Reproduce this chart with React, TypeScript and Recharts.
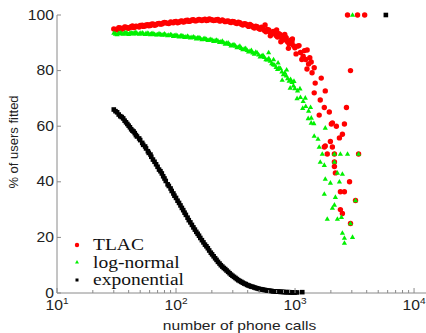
import { ScatterChart, Scatter, XAxis, YAxis, Legend } from 'recharts';

// tick values
const majorCalls = [10, 100, 1000, 10000];
const minorCalls = [20, 30, 40, 50, 60, 70, 80, 90, 200, 300, 400, 500, 600, 700, 800, 900, 2000, 3000, 4000, 5000, 6000, 7000, 8000, 9000];
const fitTicks = [0, 20, 40, 60, 80, 100];

// call counts shared by the dense part of the curves
const gridCalls = [30, 32, 34, 36, 38, 40, 42, 44, 46, 49, 52, 55, 58, 61, 64, 68, 72, 76, 80, 85, 90, 95, 100, 106, 112, 118, 125, 132, 140, 148, 156, 165, 175, 185, 196, 207, 219, 232, 245, 259, 274, 290, 307, 325, 344, 364, 385, 407, 430, 455, 481, 509, 538, 569, 602, 637, 674, 713, 754, 797, 843, 892, 943, 997];
const midCalls = [31, 33, 35, 37, 39, 41, 43, 45, 47, 50, 53, 56, 59, 62, 66, 70, 74, 78, 82, 87, 92, 97, 103, 109, 115, 121, 128, 136, 144, 152, 160, 170, 180, 190, 201, 213, 225, 238, 252, 266, 282, 298, 316, 334, 354, 374, 396, 418, 442, 468, 495, 523, 553, 585, 619, 655, 693, 733, 775, 820, 867, 917, 970];

// TLAC (red dots)
const tlacFit = [95.0, 94.6, 95.3, 95.1, 95.6, 95.2, 95.8, 95.5, 96.0, 95.7, 96.3, 96.0, 96.5, 96.2, 96.8, 96.5, 97.0, 96.8, 97.3, 97.0, 97.5, 97.2, 97.7, 97.4, 97.9, 97.6, 98.1, 97.8, 98.3, 97.9, 98.4, 98.0, 98.5, 98.1, 98.4, 98.0, 98.3, 97.8, 98.2, 97.6, 97.9, 97.3, 97.6, 96.9, 97.2, 96.4, 96.8, 95.9, 96.2, 95.3, 95.8, 94.9, 95.2, 94.0, 94.6, 93.2, 93.8, 92.1, 92.9, 91.0, 91.8, 89.6, 90.3, 88.2];
const tlacMidFit = [94.8, 95.4, 94.9, 95.7, 95.3, 95.5, 96.1, 95.6, 95.9, 96.2, 95.9, 96.4, 96.1, 96.7, 96.3, 96.9, 96.7, 97.1, 97.2, 96.9, 97.3, 97.6, 97.2, 97.8, 97.5, 98.0, 97.7, 98.2, 97.9, 98.2, 98.2, 98.3, 98.0, 98.6, 98.2, 98.1, 98.4, 97.9, 97.9, 97.8, 97.5, 97.7, 97.1, 97.4, 96.7, 96.9, 96.3, 96.6, 95.7, 96.0, 95.1, 95.6, 94.4, 94.8, 93.7, 94.1, 92.6, 93.3, 91.6, 92.4, 90.3, 90.9, 89.0];
const tlacSpreadCalls = [1050, 1110, 1170, 1230, 1300, 560, 620, 700, 760, 820, 880, 950, 1020, 1080, 1140, 1200, 1260, 1330, 1390, 1264, 1367, 1449, 1660, 1477, 1449, 1795, 1629, 1762, 1941, 1596, 2924, 2704, 2060, 2600, 2018, 2225, 2500, 2360, 1982, 1795, 1762, 2060, 1866, 2142, 3420, 2142, 2142, 2183, 2871, 2405, 2600, 3223, 2405, 2500, 2924, 2761, 3351, 3846];
const tlacSpreadFit = [88.8, 86.5, 85.2, 84.0, 82.4, 96.4, 92.5, 94.6, 90.4, 93.0, 88.0, 91.4, 86.0, 89.0, 84.0, 87.2, 80.6, 84.6, 79.2, 87.4, 83.1, 81.0, 77.3, 75.5, 72.0, 72.7, 69.4, 66.7, 65.1, 64.0, 80.0, 66.7, 61.2, 60.8, 60.8, 60.0, 57.1, 55.8, 54.5, 52.9, 52.5, 52.5, 50.0, 50.0, 50.0, 47.1, 45.5, 43.2, 40.0, 36.4, 36.4, 33.3, 30.0, 28.6, 25.0, 100, 100, 100];

// log-normal (green triangles)
const lognFit = [93.5, 93.0, 93.6, 93.2, 93.7, 93.1, 93.6, 93.3, 93.8, 93.2, 93.6, 93.1, 93.5, 93.0, 93.4, 92.9, 93.3, 92.8, 93.2, 92.6, 93.0, 92.4, 92.8, 92.2, 92.6, 92.0, 92.4, 91.8, 92.2, 91.5, 91.9, 91.2, 91.6, 90.9, 91.3, 90.6, 91.0, 90.2, 90.6, 89.6, 90.0, 89.0, 89.4, 88.3, 88.8, 87.6, 88.0, 86.8, 87.3, 86.0, 86.4, 85.0, 85.5, 84.0, 84.4, 82.6, 82.0, 80.5, 80.8, 78.6, 78.2, 76.3, 75.8, 73.6];
const lognMidFit = [93.2, 93.4, 93.4, 93.5, 93.3, 93.5, 93.4, 93.6, 93.4, 93.5, 93.3, 93.4, 93.2, 93.3, 93.1, 93.0, 93.1, 93.0, 92.9, 92.8, 92.8, 92.6, 92.5, 92.5, 92.3, 92.2, 92.1, 92.0, 91.9, 91.8, 91.6, 91.4, 91.3, 91.1, 91.0, 90.8, 90.7, 90.4, 90.1, 89.9, 89.5, 89.2, 88.9, 88.5, 88.1, 87.8, 87.3, 87.0, 86.4, 86.7, 85.7, 85.2, 84.8, 83.9, 83.5, 82.2, 81.2, 81.0, 79.6, 79.2, 77.2, 76.9, 74.6];
const lognSpreadCalls = [1050, 1110, 1170, 1230, 1300, 1370, 1440, 600, 660, 720, 780, 850, 910, 980, 1040, 1100, 1160, 1220, 1290, 1350, 1367, 1795, 1449, 1560, 1596, 1694, 2142, 2405, 2761, 3420, 1629, 1762, 2142, 2270, 2500, 1795, 1982, 2360, 1762, 2183, 3223, 2142, 2060, 1866, 2270, 2454, 2500, 3041, 2600, 2600, 2924, 3041];
const lognSpreadFit = [72.8, 70.4, 69.0, 67.2, 65.5, 63.0, 61.0, 86.5, 84.0, 82.8, 76.6, 80.3, 73.8, 76.2, 70.0, 73.5, 66.5, 70.2, 62.8, 66.8, 61.2, 59.4, 56.5, 55.4, 52.5, 50, 50, 50, 50, 50, 47.1, 46.0, 47.1, 43.2, 42.8, 41.0, 39.6, 40.0, 35.6, 34.5, 33.3, 31.7, 30.6, 26.6, 26.6, 27.3, 21.6, 20.1, 19.8, 18.0, 25.0, 100];

// exponential (black squares)
const expoFit = [66.0, 65.0, 63.6, 62.8, 61.4, 60.2, 58.9, 58.1, 56.8, 55.6, 54.0, 52.7, 51.0, 49.8, 48.0, 46.3, 44.4, 43.0, 41.2, 39.1, 37.6, 35.8, 34.2, 32.4, 30.6, 28.9, 27.1, 25.4, 23.6, 22.0, 20.6, 19.0, 17.4, 16.1, 14.5, 13.2, 11.9, 10.6, 9.5, 8.6, 7.6, 6.6, 5.8, 5.0, 4.3, 3.7, 3.2, 2.7, 2.3, 2.0, 1.7, 1.4, 1.2, 1.0, 0.8, 0.7, 0.6, 0.5, 0.4, 0.4, 0.3, 0.3, 0.2, 0.2];
const expoMidFit = [65.4, 64.2, 63.3, 62.0, 60.8, 59.6, 58.4, 57.5, 56.3, 55.0, 53.3, 52.0, 50.4, 49.0, 47.2, 45.4, 43.8, 42.0, 40.3, 38.5, 36.7, 35.0, 33.2, 31.5, 29.8, 28.1, 26.2, 24.5, 22.8, 21.3, 19.8, 18.2, 16.8, 15.3, 13.9, 12.5, 11.2, 10.0, 9.0, 8.1, 7.1, 6.2, 5.4, 4.6, 4.0, 3.4, 2.9, 2.5, 2.2, 1.8, 1.5, 1.3, 1.1, 0.9, 0.8, 0.6, 0.5, 0.5, 0.4, 0.3, 0.3, 0.2, 0.2];
const expoExtraCalls = [1040, 1150, 5795];
const expoExtraFit = [0.2, 0.3, 100];

const seriesNames = ['TLAC', 'log-normal', 'exponential'];

const RED = '#ff0000';
const GREEN = '#00f000';
const BLACK = '#000000';
const AXIS = '#8a8a8a';
const SANS = '"Liberation Sans", Arial, sans-serif';
const SERIF = '"Liberation Serif", "Times New Roman", serif';

const zip = (calls: number[], fit: number[]) => calls.map((c, i) => ({ calls: c, fit: fit[i] }));

const tlacData = [...zip(gridCalls, tlacFit), ...zip(midCalls, tlacMidFit), ...zip(tlacSpreadCalls, tlacSpreadFit)];
const lognData = [...zip(gridCalls, lognFit), ...zip(midCalls, lognMidFit), ...zip(lognSpreadCalls, lognSpreadFit)];
const expoData = [...zip(gridCalls, expoFit), ...zip(midCalls, expoMidFit), ...zip(expoExtraCalls, expoExtraFit)];

const RedDot = (p: any) => <circle cx={p.cx} cy={p.cy} r={2.7} fill={RED} />;
const GreenTri = (p: any) => (
  <polygon
    points={`${p.cx},${p.cy - 2.8} ${p.cx - 2.6},${p.cy + 1.8} ${p.cx + 2.6},${p.cy + 1.8}`}
    fill={GREEN}
  />
);
const BlackSq = (p: any) => <rect x={p.cx - 2.3} y={p.cy - 2.3} width={4.6} height={4.6} fill={BLACK} />;

function CallsTick({ x, y, payload }: any) {
  const v = payload.value;
  const major = majorCalls.includes(v);
  return (
    <g>
      <line x1={x} x2={x} y1={y} y2={y - (major ? 5 : 3)} stroke={AXIS} />
      {major && (
        <g transform={`translate(${x},${y + 17}) scale(1.12,1)`}>
          <text textAnchor="middle" fontSize={14} fill="#222" fontFamily={SANS}>
            10<tspan dy={-6} fontSize={9}>{Math.round(Math.log10(v))}</tspan>
          </text>
        </g>
      )}
    </g>
  );
}

function FitTick({ x, y, payload }: any) {
  return (
    <g>
      <line x1={x} x2={x + 4} y1={y} y2={y} stroke={AXIS} />
      <g transform={`translate(${x - 3},${y + 4.5}) scale(1.12,1)`}>
        <text textAnchor="end" fontSize={14} fill="#222" fontFamily={SANS}>
          {payload.value}
        </text>
      </g>
    </g>
  );
}

const XTitle = ({ viewBox }: any) => (
  <g transform={`translate(${viewBox.x + viewBox.width / 2 - 2},${viewBox.y + 37}) scale(1.2,1)`}>
    <text textAnchor="middle" fontSize={13} fill="#222" fontFamily={SANS}>
      number of phone calls
    </text>
  </g>
);

const YTitle = ({ viewBox }: any) => (
  <g transform={`translate(18,${viewBox.y + viewBox.height / 2 - 12}) rotate(-90)`}>
    <text textAnchor="middle" fontSize={13} fill="#222" fontFamily={SANS}>
      % of users fitted
    </text>
  </g>
);

function FitLegend() {
  const marks = [
    <circle cx={7} cy={9} r={2.2} fill={RED} />,
    <polygon points="7,24 5,27.5 9,27.5" fill={GREEN} />,
    <rect x={5.5} y={42.5} width={3} height={3} fill={BLACK} />,
  ];
  const baselines = [14, 31.5, 49];
  return (
    <svg width={160} height={56}>
      {seriesNames.map((name, i) => (
        <g key={name}>
          {marks[i]}
          <g transform={`translate(23,${baselines[i]}) scale(1.22,1)`}>
            <text fontSize={16} fill="#111" fontFamily={SERIF}>
              {name}
            </text>
          </g>
        </g>
      ))}
    </svg>
  );
}

export default function App() {
  return (
    <div style={{ position: 'absolute', left: 0, top: 0, width: 426, height: 333, background: '#fff' }}>
      <ScatterChart width={426} height={333} margin={{ top: 15, right: 0, bottom: 0, left: 0 }}>
        <XAxis
          type="number"
          dataKey="calls"
          scale="log"
          domain={[10, 12600]}
          allowDataOverflow
          ticks={[...majorCalls, ...minorCalls].sort((a, b) => a - b)}
          interval={0}
          height={40}
          tickSize={0}
          tickMargin={0}
          tickLine={false}
          axisLine={{ stroke: AXIS }}
          tick={CallsTick}
          label={XTitle}
        />
        <YAxis
          type="number"
          dataKey="fit"
          domain={[0, 100]}
          ticks={fitTicks}
          interval={0}
          width={57}
          tickSize={0}
          tickMargin={0}
          tickLine={false}
          axisLine={{ stroke: AXIS }}
          tick={FitTick}
          label={YTitle}
        />
        <Legend
          layout="horizontal"
          verticalAlign="middle"
          content={FitLegend}
          wrapperStyle={{ left: 70, top: 236, width: 160, height: 56 }}
        />
        <Scatter name={seriesNames[0]} data={tlacData} shape={RedDot} isAnimationActive={false} />
        <Scatter name={seriesNames[1]} data={lognData} shape={GreenTri} isAnimationActive={false} />
        <Scatter name={seriesNames[2]} data={expoData} shape={BlackSq} isAnimationActive={false} />
      </ScatterChart>
    </div>
  );
}
